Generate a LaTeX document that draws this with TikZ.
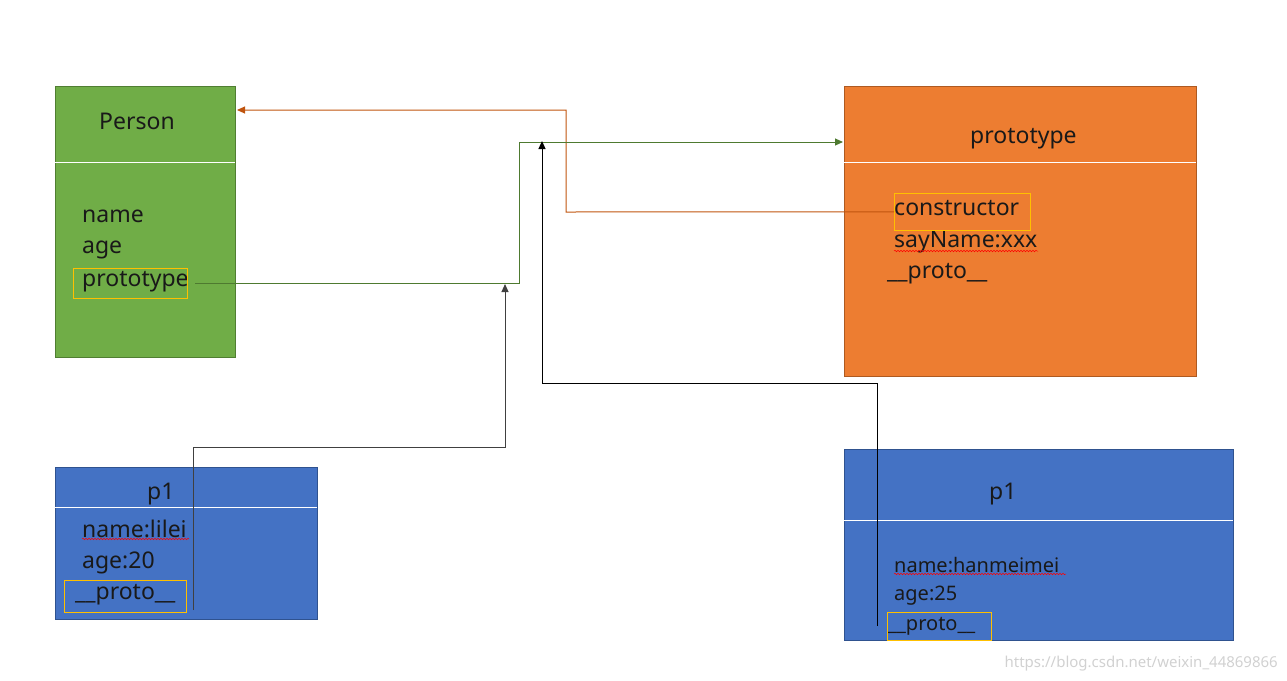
\documentclass[tikz,border=0pt]{standalone}
\usepackage{fontspec}
\setmainfont{Noto Sans}
\usetikzlibrary{arrows.meta,decorations.pathmorphing}
\definecolor{gfill}{HTML}{70AD47}\definecolor{gline}{HTML}{507E32}
\definecolor{ofill}{HTML}{ED7D31}\definecolor{oline}{HTML}{AE5A21}
\definecolor{bfill}{HTML}{4472C4}\definecolor{bline}{HTML}{2F528F}
\definecolor{ybox}{HTML}{FFC000}
\definecolor{oarrow}{HTML}{C0540E}\definecolor{garrow}{HTML}{4E7A30}
\tikzset{
  cls/.style={draw, line width=0.8pt, minimum width=#1, inner sep=0pt, anchor=north west},
  txt/.style={anchor=base west, inner sep=0pt, font=\fontsize{23}{23}\selectfont, text=black!90},
  stxt/.style={anchor=base west, inner sep=0pt, font=\fontsize{20}{20}\selectfont, text=black!90},
  hl/.style={draw=ybox, line width=0.8pt, inner sep=0pt, anchor=north west},
  conn/.style={line width=1pt, -{Triangle[length=8pt,width=7pt]}},
  divider/.style={white, line width=0.9pt},
  squig/.style={red, line width=0.5pt, decorate, decoration={snake, amplitude=0.8pt, segment length=3pt}}
}
\begin{document}
\begin{tikzpicture}[x=1pt,y=-1pt]
\useasboundingbox (0,0) rectangle (1287,680);
% Person
\node[cls=180pt, minimum height=271pt, fill=gfill, draw=gline] (person) at (55,86) {};
\draw[divider] (55,162) -- (235,162);
\node[txt] (ptitle) at (99,129) {Person};
\node[txt] (pname) at (82,222) {name};
\node[txt] (page) at (82,253) {age};
\node[txt] (pproto) at (82,286) {prototype};
\node[hl, minimum width=114pt, minimum height=30pt] (ptbox) at (73,268) {};
% prototype
\node[cls=352pt, minimum height=290pt, fill=ofill, draw=oline] (proto) at (844,86) {};
\draw[divider] (844,162) -- (1196,162);
\node[txt] (otitle) at (970,143) {prototype};
\node[txt] (ocons) at (894,215) {constructor};
\node[txt] (osay) at (894,247) {sayName:xxx};
\node[txt] (oproto) at (887,278) {\_\_proto\_\_};
\node[hl, minimum width=136pt, minimum height=37pt] (cbox) at (894,193) {};
\draw[squig] (894,251) -- (1038,251);
% p1 left
\node[cls=262pt, minimum height=152pt, fill=bfill, draw=bline] (pa) at (55,467) {};
\draw[divider] (55,507) -- (317,507);
\node[txt] (patitle) at (147,499) {p1};
\node[txt] (paname) at (82,537) {name:lilei};
\node[txt] (paage) at (82,568) {age:20};
\node[txt] (paproto) at (75,599) {\_\_proto\_\_};
\node[hl, minimum width=122pt, minimum height=32pt] (pabox) at (64,580) {};
\draw[squig] (82,539) -- (189,539);
% p1 right
\node[cls=389pt, minimum height=191pt, fill=bfill, draw=bline] (pb) at (844,449) {};
\draw[divider] (844,520) -- (1233,520);
\node[txt] (pbtitle) at (989,499) {p1};
\node[stxt] (pbname) at (894,572) {name:hanmeimei};
\node[stxt] (pbage) at (894,600) {age:25};
\node[stxt] (pbproto) at (888,630) {\_\_proto\_\_};
\node[hl, minimum width=104pt, minimum height=28pt] (pbbox) at (887,612) {};
\draw[squig] (894,574) -- (1066,574);
% connectors
\coordinate (o1) at (566,212); \coordinate (o2) at (566,110); \coordinate (oEnd) at (237,110);
\draw[conn, oarrow] (cbox.west) -- (o1) -- (o2) -- (oEnd);
\coordinate (gS) at (195,283); \coordinate (g1) at (519,283); \coordinate (g2) at (519,142); \coordinate (gEnd) at (843,142);
\draw[conn, garrow] (gS) -- (g1) -- (g2) -- (gEnd);
\coordinate (aS) at (193,610); \coordinate (a1) at (193,447); \coordinate (a2) at (505,447); \coordinate (aEnd) at (505,284);
\draw[conn, black!75] (aS) -- (a1) -- (a2) -- (aEnd);
\coordinate (bS) at (877,626); \coordinate (b1) at (877,383); \coordinate (b2) at (542,383); \coordinate (bEnd) at (542,141);
\draw[conn, black] (bS) -- (b1) -- (b2) -- (bEnd);
% watermark
\node[anchor=base east, inner sep=0pt, font=\fontsize{15}{15}\selectfont, text=black!18] (wm) at (1278,667) {https://blog.csdn.net/weixin\_44869866};
\end{tikzpicture}
\end{document}
